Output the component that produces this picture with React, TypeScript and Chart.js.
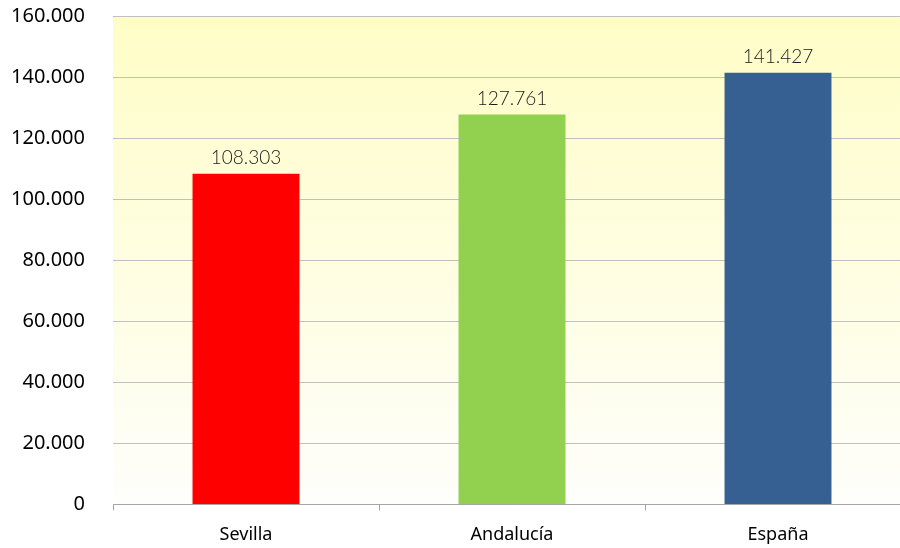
import React, { useEffect, useRef } from "react";
import { Chart, registerables } from "chart.js";

Chart.register(...registerables);

const categories = ["Sevilla", "Andalucía", "España"];
const values = [108303, 127761, 141427];
const barColors = ["#FF0000", "#92D050", "#366092"];
const yMin = 0;
const yMax = 160000;
const yStep = 20000;

function fmt(v: number): string {
  return String(Math.round(v)).replace(/\B(?=(\d{3})+(?!\d))/g, ".");
}

const bgPlugin = {
  id: "bgGradient",
  beforeDraw(chart: any) {
    const { ctx, chartArea } = chart;
    if (!chartArea) return;
    const g = ctx.createLinearGradient(0, chartArea.top, 0, chartArea.bottom);
    g.addColorStop(0, "#FFFDC6");
    g.addColorStop(1, "#FEFEFB");
    ctx.save();
    ctx.fillStyle = g;
    ctx.fillRect(chartArea.left, chartArea.top, chartArea.right - chartArea.left, chartArea.bottom - chartArea.top);
    ctx.restore();
  },
};

const labelPlugin = {
  id: "valueLabels",
  afterDatasetsDraw(chart: any) {
    const { ctx } = chart;
    const meta = chart.getDatasetMeta(0);
    ctx.save();
    ctx.font = "300 19px Lato, 'Noto Sans', sans-serif";
    ctx.fillStyle = "#1A1A1A";
    ctx.textAlign = "center";
    ctx.textBaseline = "middle";
    meta.data.forEach((bar: any, i: number) => {
      ctx.fillText(fmt(values[i]), bar.x, bar.y - 16);
    });
    ctx.restore();
  },
};

export default function App() {
  const ref = useRef<HTMLCanvasElement>(null);
  useEffect(() => {
    if (!ref.current) return;
    const chart = new Chart(ref.current, {
      type: "bar",
      data: {
        labels: categories,
        datasets: [
          {
            data: values,
            backgroundColor: barColors,
            borderWidth: 0,
            barPercentage: 0.402,
            categoryPercentage: 1,
          },
        ],
      },
      options: {
        responsive: false,
        animation: false,
        layout: { padding: { top: 0, left: 0, right: 19, bottom: 0 } },
        plugins: { legend: { display: false }, tooltip: { enabled: false }, title: { display: false } },
        scales: {
          x: {
            grid: {
              offset: true,
              drawOnChartArea: false,
              drawTicks: true,
              tickLength: 6,
              color: "#A6A6A6",
            },
            border: { display: true, color: "#A6A6A6", width: 1 },
            ticks: {
              font: { family: "'Noto Sans', sans-serif", size: 18 },
              color: "#000000",
              padding: 14,
            },
          },
          y: {
            min: yMin,
            max: yMax,
            afterFit(scale: any) {
              scale.width = 113;
            },
            grid: { drawTicks: false, color: "#C0C0C0" },
            border: { display: false },
            ticks: {
              stepSize: yStep,
              padding: 28,
              font: { family: "'Noto Sans', sans-serif", size: 20 },
              color: "#000000",
              callback: (v: any) => fmt(Number(v)),
            },
          },
        },
      },
      plugins: [bgPlugin, labelPlugin],
    });
    return () => chart.destroy();
  }, []);
  return (
    <div style={{ position: "fixed", left: 0, top: 0, width: 900, height: 548, overflow: "hidden", background: "#FFFFFF" }}>
      <canvas ref={ref} width={930} height={584} style={{ width: 930, height: 584, display: "block", position: "absolute", left: 0, top: -24 }} />
    </div>
  );
}
